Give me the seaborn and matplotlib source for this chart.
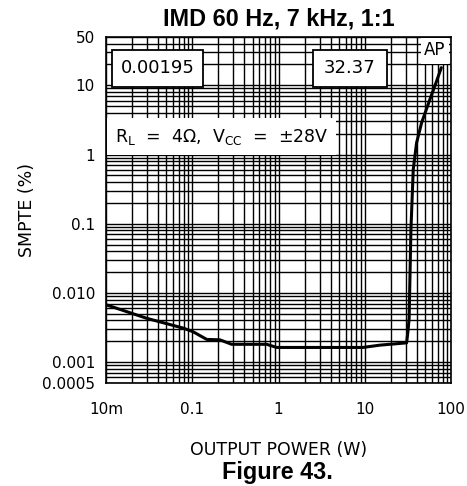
import matplotlib
matplotlib.use("Agg")
import matplotlib.pyplot as plt
from matplotlib import font_manager as fm
from matplotlib.patches import Rectangle
from matplotlib.ticker import FixedLocator, LogLocator, NullFormatter
import seaborn as sns
import pandas as pd

# curve (output power in W, SMPTE IMD in %)
power_w = [0.0102, 0.0296, 0.0787, 0.102, 0.147, 0.209, 0.286, 0.728, 0.95,
           4.27, 9.5, 14.96, 30.5, 31.8, 32.6, 34.2, 36.4, 39.8, 45.5,
           56.8, 67.0, 77.0]
smpte_pct = [0.0067, 0.0043, 0.0031, 0.00275, 0.00213, 0.0021, 0.00181,
             0.00181, 0.00163, 0.00163, 0.00163, 0.00176, 0.0019, 0.003,
             0.0043, 0.082, 0.61, 1.48, 2.88, 6.27, 11.0, 18.0]

x_ticks = [0.01, 0.1, 1, 10, 100]
x_tick_labels = ["10m", "0.1", "1", "10", "100"]
y_ticks = [0.0005, 0.001, 0.01, 0.1, 1, 10, 50]
y_tick_labels = ["0.0005", "0.001", "0.010", "0.1", "1", "10", "50"]

df = pd.DataFrame({"power": power_w, "smpte": smpte_pct})

sns.set_style("white")
plt.rcParams["font.family"] = ["DejaVu Sans"]
plt.rcParams["text.color"] = "black"
plt.rcParams["axes.labelcolor"] = "black"
plt.rcParams["xtick.color"] = "black"
plt.rcParams["ytick.color"] = "black"

# Arial-like bold for title and caption (avoid the Narrow variant)
bold_file = None
for f in fm.findSystemFonts():
    if f.endswith("LiberationSans-Bold.ttf"):
        bold_file = f
        break
if bold_file:
    bold_font = fm.FontProperties(fname=bold_file, size=16.8)
else:
    bold_font = fm.FontProperties(family="DejaVu Sans", weight="bold", size=15)

fig = plt.figure(figsize=(4.67, 4.86), dpi=100)
ax = fig.add_axes([0.227, 0.212, 0.739, 0.712])

ax.set_xscale("log")
ax.set_yscale("log")
ax.set_xlim(0.01, 100)
ax.set_ylim(0.0005, 50)

# dense log grid like the AP analyzer plots
ax.xaxis.set_minor_locator(LogLocator(base=10, subs=range(2, 10), numticks=20))
ax.yaxis.set_minor_locator(LogLocator(base=10, subs=range(2, 10), numticks=20))
ax.xaxis.set_minor_formatter(NullFormatter())
ax.yaxis.set_minor_formatter(NullFormatter())
ax.grid(True, which="both", color="black", linewidth=1.0)
ax.set_axisbelow(True)

sns.lineplot(data=df, x="power", y="smpte", ax=ax, color="black",
             linewidth=2.2, zorder=3)

ax.xaxis.set_major_locator(FixedLocator(x_ticks))
ax.set_xticklabels(x_tick_labels)
ax.yaxis.set_major_locator(FixedLocator(y_ticks))
ax.set_yticklabels(y_tick_labels)
ax.tick_params(axis="both", which="both", length=0, labelsize=11)
ax.tick_params(axis="x", pad=14)
ax.tick_params(axis="y", pad=8)

for s in ax.spines.values():
    s.set_color("black")
    s.set_linewidth(1.2)

ax.set_xlabel("OUTPUT POWER (W)", fontsize=12.5, labelpad=17)
ax.set_ylabel("SMPTE (%)", fontsize=12.5, labelpad=4)
ax.set_title("IMD 60 Hz, 7 kHz, 1:1", fontproperties=bold_font, pad=8)

# readout boxes
ax.add_patch(Rectangle((0.017, 0.855), 0.264, 0.107, transform=ax.transAxes,
                       facecolor="white", edgecolor="black", linewidth=1.3,
                       zorder=4))
ax.text(0.149, 0.909, "0.00195", transform=ax.transAxes, ha="center",
        va="center", fontsize=13, zorder=5)
ax.add_patch(Rectangle((0.600, 0.855), 0.214, 0.107, transform=ax.transAxes,
                       facecolor="white", edgecolor="black", linewidth=1.3,
                       zorder=4))
ax.text(0.707, 0.909, "32.37", transform=ax.transAxes, ha="center",
        va="center", fontsize=13, zorder=5)

# AP tag
ax.add_patch(Rectangle((0.913, 0.922), 0.080, 0.075, transform=ax.transAxes,
                       facecolor="white", edgecolor="none", zorder=4))
ax.text(0.953, 0.962, "AP", transform=ax.transAxes, ha="center",
        va="center", fontsize=12, zorder=5)

# conditions box
ax.add_patch(Rectangle((0.003, 0.659), 0.664, 0.107, transform=ax.transAxes,
                       facecolor="white", edgecolor="none", zorder=4))
ax.text(0.025, 0.712,
        r"R$_\mathregular{L}$  =  4$\Omega$,  V$_\mathregular{CC}$  =  $\pm$28V",
        transform=ax.transAxes, ha="left", va="center", fontsize=12.5,
        zorder=5)

fig.text(0.595, 0.027, "Figure 43.", ha="center", va="center",
         fontproperties=bold_font)

fig.savefig("out.png", dpi=100)
